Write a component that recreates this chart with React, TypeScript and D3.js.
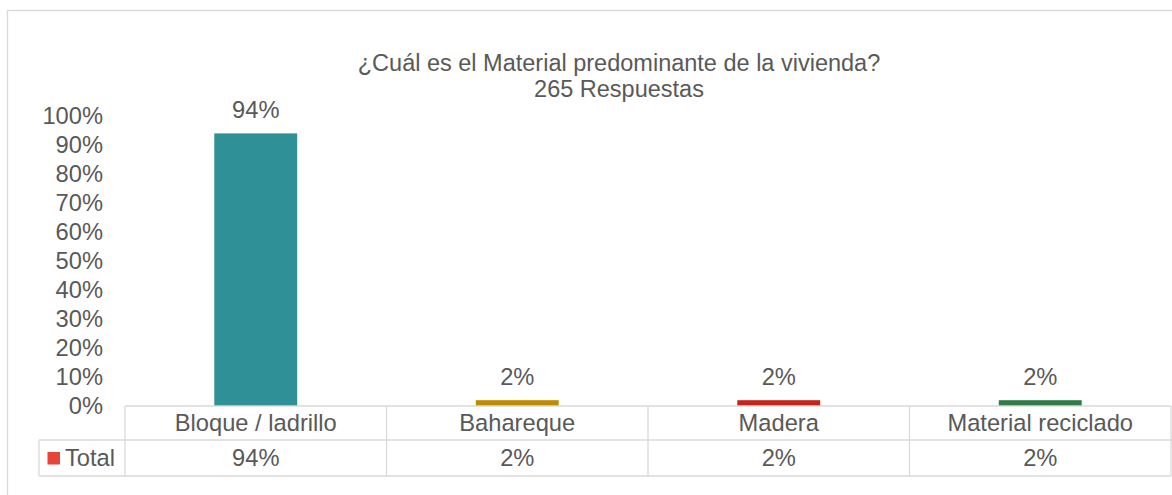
import React from "react";
import * as d3 from "d3";

const categories = ["Bloque / ladrillo", "Bahareque", "Madera", "Material reciclado"];
const values = [0.94, 0.02, 0.02, 0.02];
const barColors = ["#2F9097", "#BF8B00", "#C4241A", "#2E7D46"];
const tickValues = [0, 0.1, 0.2, 0.3, 0.4, 0.5, 0.6, 0.7, 0.8, 0.9, 1.0];
const titleLines = ["¿Cuál es el Material predominante de la vivienda?", "265 Respuestas"];
const seriesName = "Total";

const W = 1172;
const H = 495;
const FONT = "'Liberation Sans', Arial, sans-serif";
const TXT = "#595959";
const GRID = "#D9D9D9";

export default function App() {
  const x = d3.scaleBand<string>().domain(categories).range([125, 1171]).paddingInner(0).paddingOuter(0);
  const y = d3.scaleLinear().domain([0, 1]).range([406, 116]);
  const fmt = d3.format(".0%");
  const bw = x.bandwidth() * 0.317;
  const rowTop = y(0);
  const row1 = 440;
  const row2 = 476;
  const fs = 23.7;

  return (
    <div style={{ position: "absolute", left: 0, top: 0 }}>
      <svg width={W} height={H} style={{ display: "block", background: "#fff" }} fontFamily={FONT}>
        <rect x={7.5} y={10.5} width={W} height={H} fill="#fff" stroke={GRID} strokeWidth={1.3} />
        {titleLines.map((t, i) => (
          <text key={i} x={619} y={70.5 + i * 26} textAnchor="middle" fontSize={23.5} fill={TXT}>
            {t}
          </text>
        ))}
        {tickValues.map((v) => (
          <text key={v} x={103} y={y(v) + 8.3} textAnchor="end" fontSize={fs} fill={TXT}>
            {fmt(v)}
          </text>
        ))}
        {values.map((v, i) => {
          const cx = (x(categories[i]) as number) + x.bandwidth() / 2;
          return (
            <g key={i}>
              <rect x={cx - bw / 2} y={y(v)} width={bw} height={y(0) - y(v)} fill={barColors[i]} />
              <text x={cx} y={y(v) - 15} textAnchor="middle" fontSize={fs} fill={TXT}>
                {fmt(v)}
              </text>
            </g>
          );
        })}
        {/* data table */}
        <g stroke={GRID} strokeWidth={1.3} fill="none">
          <line x1={125} x2={1171} y1={rowTop} y2={rowTop} />
          <line x1={39} x2={1171} y1={row1} y2={row1} />
          <line x1={39} x2={1171} y1={row2} y2={row2} />
          <line x1={39} x2={39} y1={row1} y2={row2} />
          {categories.map((c) => (
            <line key={c} x1={x(c)} x2={x(c)} y1={rowTop} y2={row2} />
          ))}
          <line x1={1171} x2={1171} y1={rowTop} y2={row2} />
        </g>
        {categories.map((c, i) => {
          const cx = (x(c) as number) + x.bandwidth() / 2;
          return (
            <g key={c}>
              <text x={cx} y={(rowTop + row1) / 2 + 8.3} textAnchor="middle" fontSize={fs} fill={TXT}>
                {c}
              </text>
              <text x={cx} y={(row1 + row2) / 2 + 8.3} textAnchor="middle" fontSize={fs} fill={TXT}>
                {fmt(values[i])}
              </text>
            </g>
          );
        })}
        <rect x={47.5} y={452} width={12.5} height={12.5} fill="#E8443A" />
        <text x={65} y={(row1 + row2) / 2 + 8.3} fontSize={fs} fill={TXT}>
          {seriesName}
        </text>
      </svg>
    </div>
  );
}
